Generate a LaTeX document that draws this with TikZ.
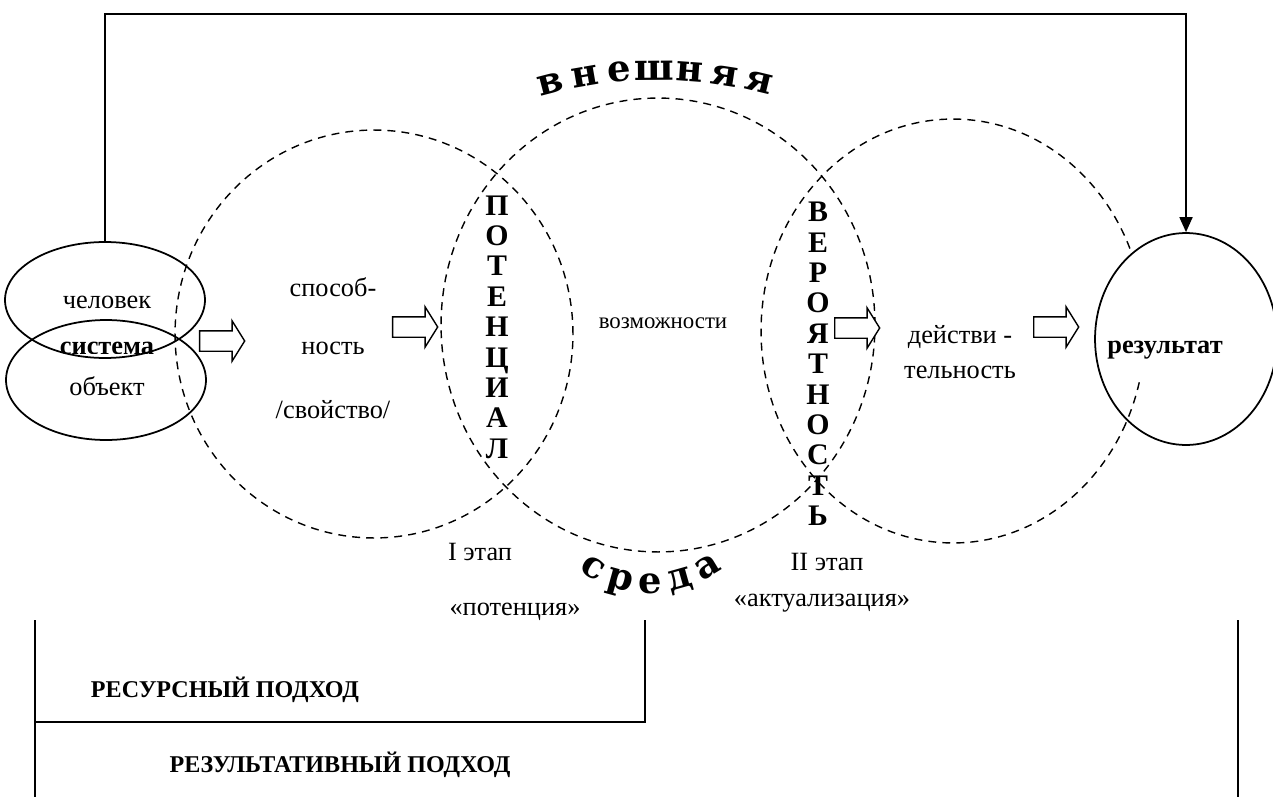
\documentclass[tikz,border=0pt]{standalone}
\usepackage{fontspec}
\setmainfont{Liberation Serif}
\newfontfamily\decofont{DejaVu Serif}
\usetikzlibrary{arrows.meta,shapes.geometric,shapes.arrows,positioning}

\tikzset{
  zone/.style={ellipse,draw,dash pattern=on 4.5pt off 3.5pt,line width=0.8pt,inner sep=0pt},
  oval/.style={ellipse,draw,line width=1pt,inner sep=0pt},
  fatarrow/.style={single arrow,draw,fill=white,line width=0.8pt,inner xsep=0pt,
    inner ysep=0.19cm,minimum height=0.9cm,single arrow head extend=0.2cm,
    single arrow tip angle=116},
  vword/.style={align=center,font=\bfseries\fontsize{17}{17.3}\selectfont},
  deco/.style={font=\decofont\bfseries\fontsize{21}{22}\selectfont,inner sep=0pt,anchor=base},
  small/.style={font=\fontsize{13}{15}\selectfont},
  bold/.style={font=\bfseries\fontsize{15}{18}\selectfont},
  approach/.style={font=\bfseries\fontsize{13.7}{16}\selectfont}
}

\begin{document}
\begin{tikzpicture}[x=0.02cm,y=-0.02cm,line width=1pt,
    >={Triangle[length=0.3cm,width=0.26cm]},
    every node/.append style={font=\fontsize{15}{18}\selectfont}]
  \useasboundingbox (0,0) rectangle (1273,797);

  % three dashed zones
  \node[zone,minimum width=7.96cm,minimum height=8.16cm] (zone1) at (374,334) {};
  \node[zone,minimum width=8.68cm,minimum height=9.08cm] (zone2) at (658,325) {};
  \node[zone,minimum width=7.68cm,minimum height=8.48cm] (zone3) at (953,331) {};

  % system
  \node[oval,minimum width=4cm,minimum height=2.32cm] (man) at (105,300) {};
  \node[oval,minimum width=4cm,minimum height=2.4cm] (obj) at (106,380) {};
  \node (manlbl) at (107,302) {человек};
  \node (objlbl) at (107,386) {объект};
  \begin{scope}
    \clip (40,320) rectangle (180,353);
    \node[bold] (sys) at (107,348) {система};
  \end{scope}

  % result
  \node[oval,fill=white,minimum width=3.64cm,minimum height=4.24cm] (res) at (1186,339) {};
  \draw[zone] ([shift={(-14:3.84cm and 4.24cm)}]zone3.center)
    arc[start angle=-14,end angle=-26,x radius=3.84cm,y radius=4.24cm];
  \node[bold] (reslbl) at (1165,350) {результат};

  \coordinate (top) at (0,14);
  \draw[->] (man.north) -- (man.north |- top) -- (res.north |- top) -- (res.north);

  % stages
  \node (cap1) at (333,287) {способ-};
  \node (cap2) at (333,348) {ность};
  \node (cap3) at (333,410) {/свойство/};
  \node[small] (poss) at (663,323) {возможности};
  \node (act1) at (960,337) {действи -};
  \node (act2) at (960,372) {тельность};

  \node[vword] (pot) at (497,327) {П\\О\\Т\\Е\\Н\\Ц\\И\\А\\Л};
  \node[vword] (prob) at (818,364) {В\\Е\\Р\\О\\Я\\Т\\Н\\О\\С\\Т\\Ь};

  \node[fatarrow] (a1) at (219,341) {};
  \node[fatarrow] (a2) at (412,327) {};
  \node[fatarrow] (a3) at (854,328) {};
  \node[fatarrow] (a4) at (1053,327) {};

  % environment
  \coordinate (arctop) at (658,500);
  \foreach \ch [count=\i] in {в,н,е,ш,н,я,я}
    \path (arctop) ++({104.5-(\i-1)*4.68}:8.4cm)
      node[deco,rotate={14.5-(\i-1)*4.68}] {\ch};
  \coordinate (arcbot) at (650,473);
  \foreach \ch [count=\i] in {с,р,е,д,а}
    \path (arcbot) ++({-121+(\i-1)*15.6}:2.4cm)
      node[deco,rotate={-31+(\i-1)*15.6}] {\ch};

  \node (st1) at (480,552) {I этап};
  \node (st1n) at (515,612) {«потенция»};
  \node (st2) at (827,562) {II этап};
  \node (st2n) at (822,603) {«актуализация»};

  % approaches
  \draw (35,620) -- (35,797);
  \draw (35,722) -- (645,722) -- (645,620);
  \draw (1238,620) -- (1238,797);
  \node[approach] (resapp) at (225,690) {РЕСУРСНЫЙ ПОДХОД};
  \node[approach] (rezapp) at (340,765) {РЕЗУЛЬТАТИВНЫЙ ПОДХОД};
\end{tikzpicture}
\end{document}
